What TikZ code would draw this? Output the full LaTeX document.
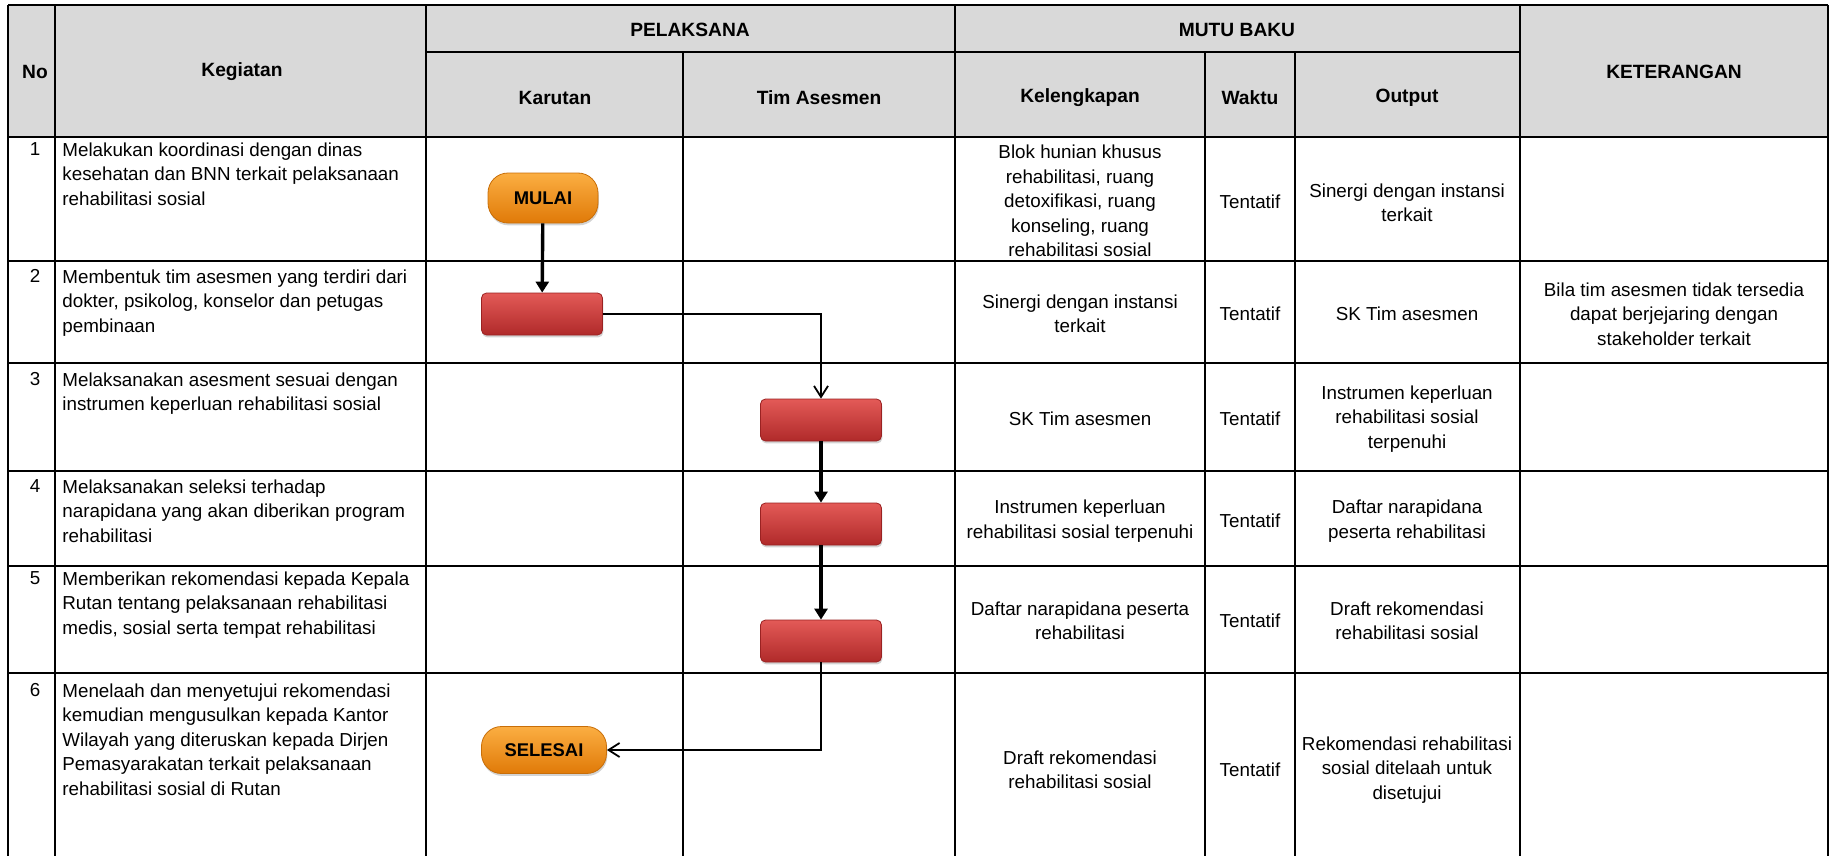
\documentclass[tikz,border=0pt]{standalone}
\usepackage{fontspec}
\setmainfont{Liberation Sans}
\usetikzlibrary{arrows.meta,shadows}

\definecolor{headgray}{HTML}{D9D9D9}
\definecolor{startTop}{HTML}{FBAE42}
\definecolor{startBot}{HTML}{E07A08}
\definecolor{startLine}{HTML}{C86E08}
\definecolor{procTop}{HTML}{E35A57}
\definecolor{procBot}{HTML}{B02A2A}
\definecolor{procLine}{HTML}{9A2222}

\tikzset{
  cell/.style={align=center, inner sep=0pt},
  headcell/.style={cell, font=\fontsize{9.6}{12}\selectfont\bfseries},
  task/.style={anchor=north west, align=left, inner sep=0pt},
  rowno/.style={anchor=north, inner sep=0pt},
  rowline/.style={line width=1.1pt},
  colline/.style={line width=0.9pt},
  startstop/.style={draw=startLine, line width=0.4pt, rounded corners=10pt,
    top color=startTop, bottom color=startBot, inner sep=0pt,
    font=\fontsize{9.2}{11}\selectfont\bfseries,
    drop shadow={shadow xshift=0.4pt, shadow yshift=-1.2pt, opacity=0.35}},
  process/.style={draw=procLine, line width=0.4pt, rounded corners=2.5pt,
    top color=procTop, bottom color=procBot, inner sep=0pt,
    minimum width=60.5pt, minimum height=21pt,
    drop shadow={shadow xshift=0.4pt, shadow yshift=-1.2pt, opacity=0.35}},
  flow/.style={line width=1.7pt, -{Triangle[length=5.5pt,width=6.5pt]}},
  link/.style={line width=0.85pt, -{Straight Barb[length=5.5pt,width=7pt,line width=0.9pt]}}
}

\begin{document}
\begin{tikzpicture}[x=0.5pt, y=-0.5pt, font=\fontsize{9.4}{12.25}\selectfont]
  \useasboundingbox (0,0) rectangle (1831,856);
  % header background
  \fill[headgray] (8,5) rectangle (1828,137);
  % table grid
  \draw[rowline] (8,5) -- (1828,5);
  \draw[rowline] (426,52) -- (1520,52);
  \foreach \y in {137,261,363,471,566,673}
    \draw[rowline] (8,\y) -- (1828,\y);
  \foreach \x in {8,55,426,955,1520,1828}
    \draw[colline] (\x,5) -- (\x,856);
  \foreach \x in {683,1205,1295}
    \draw[colline] (\x,52) -- (\x,856);

  % header texts
  \node[headcell] (hNo) at (35,72) {No};
  \node[headcell] (hKeg) at (242,72) {Kegiatan};
  \node[headcell] (hPel) at (690,30) {PELAKSANA};
  \node[headcell] (hKar) at (555,98) {Karutan};
  \node[headcell] (hTim) at (819,98) {Tim Asesmen};
  \node[headcell] (hMutu) at (1237,30) {MUTU BAKU};
  \node[headcell] (hKel) at (1080,98) {Kelengkapan};
  \node[headcell] (hWkt) at (1250,98) {Waktu};
  \node[headcell] (hOut) at (1407,98) {Output};
  \node[headcell] (hKet) at (1674,72) {KETERANGAN};

  % row numbers and activities
  \foreach \n/\y in {1/142,2/269,3/372,4/479,5/571,6/683}
    \node[rowno] (no\n) at (35,\y) {\n};
  \node[task] (keg1) at (62,142) {Melakukan koordinasi dengan dinas\\kesehatan dan BNN terkait pelaksanaan\\rehabilitasi sosial};
  \node[task] (keg2) at (62,269) {Membentuk tim asesmen yang terdiri dari\\dokter, psikolog, konselor dan petugas\\pembinaan};
  \node[task] (keg3) at (62,372) {Melaksanakan asesment sesuai dengan\\instrumen keperluan rehabilitasi sosial};
  \node[task] (keg4) at (62,479) {Melaksanakan seleksi terhadap\\narapidana yang akan diberikan program\\rehabilitasi};
  \node[task] (keg5) at (62,571) {Memberikan rekomendasi kepada Kepala\\Rutan tentang pelaksanaan rehabilitasi\\medis, sosial serta tempat rehabilitasi};
  \node[task] (keg6) at (62,683) {Menelaah dan menyetujui rekomendasi\\kemudian mengusulkan kepada Kantor\\Wilayah yang diteruskan kepada Dirjen\\Pemasyarakatan terkait pelaksanaan\\rehabilitasi sosial di Rutan};

  % mutu baku: kelengkapan, waktu, output
  \node[cell] (kel1) at (1080,201) {Blok hunian khusus\\rehabilitasi, ruang\\detoxifikasi, ruang\\konseling, ruang\\rehabilitasi sosial};
  \node[cell] (kel2) at (1080,314) {Sinergi dengan instansi\\terkait};
  \node[cell] (kel3) at (1080,419) {SK Tim asesmen};
  \node[cell] (kel4) at (1080,521) {Instrumen keperluan\\rehabilitasi sosial terpenuhi};
  \node[cell] (kel5) at (1080,621) {Daftar narapidana peserta\\rehabilitasi};
  \node[cell] (kel6) at (1080,770) {Draft rekomendasi\\rehabilitasi sosial};
  \foreach \n/\y in {1/202,2/314,3/419,4/521,5/621,6/770}
    \node[cell] (wkt\n) at (1250,\y) {Tentatif};
  \node[cell] (out1) at (1407,203) {Sinergi dengan instansi\\terkait};
  \node[cell] (out2) at (1407,314) {SK Tim asesmen};
  \node[cell] (out3) at (1407,419) {Instrumen keperluan\\rehabilitasi sosial\\terpenuhi};
  \node[cell] (out4) at (1407,521) {Daftar narapidana\\peserta rehabilitasi};
  \node[cell] (out5) at (1407,621) {Draft rekomendasi\\rehabilitasi sosial};
  \node[cell] (out6) at (1407,770) {Rekomendasi rehabilitasi\\sosial ditelaah untuk\\disetujui};
  \node[cell] (ket2) at (1674,314) {Bila tim asesmen tidak tersedia\\dapat berjejaring dengan\\stakeholder terkait};

  % flow chart
  \node[startstop, minimum width=55pt, minimum height=25pt] (mulai) at (543,198) {MULAI};
  \node[process] (p2) at (542,314) {};
  \node[process] (p3) at (821,420) {};
  \node[process] (p4) at (821,524) {};
  \node[process] (p5) at (821,641) {};
  \node[startstop, minimum width=62.5pt, minimum height=23.5pt] (selesai) at (544,750) {SELESAI};
  \draw[flow] (mulai) -- (p2);
  \draw[link] (p2.east) -| (p3.north);
  \draw[flow] (p3) -- (p4);
  \draw[flow] (p4) -- (p5);
  \draw[link] (p5.south) |- (selesai.east);
\end{tikzpicture}
\end{document}
